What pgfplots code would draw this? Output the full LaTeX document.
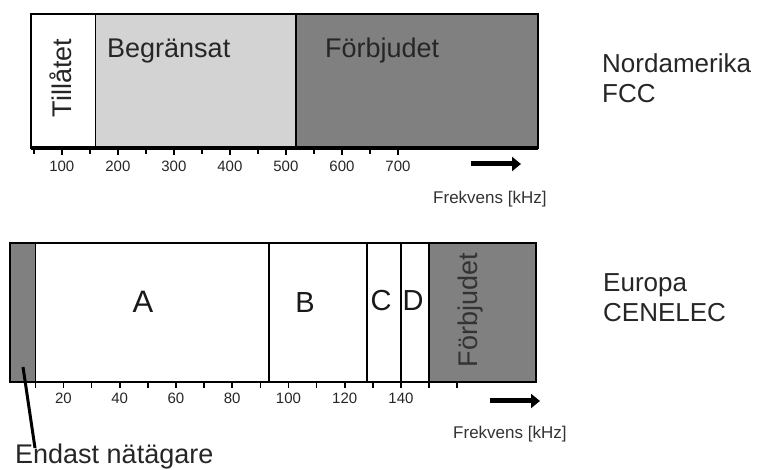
\documentclass[border=0pt]{standalone}
\usepackage{pgfplots}
\pgfplotsset{compat=1.18}
\usepackage{fontspec}
\setmainfont{Liberation Sans}
\usetikzlibrary{arrows.meta}
\definecolor{lgray}{HTML}{D3D3D3}
\definecolor{dgray}{HTML}{808080}
\newcommand{\fs}[1]{\fontsize{#1}{#1}\selectfont}
\begin{document}
\begin{tikzpicture}
\useasboundingbox (0pt,0pt) rectangle (761pt,470pt);
% ---------------- Top panel: FCC ----------------
\begin{axis}[
  at={(31pt,322pt)}, anchor=south west, scale only axis,
  width=507pt, height=134pt,
  xmin=45, xmax=950, ymin=0, ymax=1,
  ytick=\empty,
  xtick={100,200,...,700},
  minor xtick={50,150,...,650},
  tick align=outside, xtick pos=bottom,
  major tick length=7pt, minor tick length=6pt,
  tick style={black, line width=1.6pt},
  xticklabel style={font=\fs{15}, yshift=-3pt, text=black!85},
  /pgf/number format/assume math mode=true,
  axis line style={line width=1.5pt},
  clip=false,
]
\addplot[draw=black, line width=1.5pt, fill=white] coordinates {(45,0) (45,1) (160,1) (160,0)} -- cycle;
\addplot[draw=black, line width=1.5pt, fill=lgray] coordinates {(160,0) (160,1) (518,1) (518,0)} -- cycle;
\addplot[draw=black, line width=1.5pt, fill=dgray] coordinates {(518,0) (518,1) (950,1) (950,0)} -- cycle;
\draw[line width=4pt] (rel axis cs:0,0) -- (rel axis cs:1,0);
\end{axis}
% ---------------- Bottom panel: CENELEC ----------------
\begin{axis}[
  at={(10pt,88pt)}, anchor=south west, scale only axis,
  width=526pt, height=139pt,
  xmin=1, xmax=188, ymin=0, ymax=1,
  ytick=\empty,
  xtick={20,40,...,140},
  minor xtick={10,30,50,70,90,110,130,150,160},
  tick align=outside, xtick pos=bottom,
  major tick length=6pt, minor tick length=6pt,
  tick style={black, line width=1.6pt},
  xticklabel style={font=\fs{15}, yshift=-1pt, text=black!85},
  /pgf/number format/assume math mode=true,
  axis line style={line width=1.5pt},
  clip=false,
]
\addplot[draw=black, line width=1.5pt, fill=dgray] coordinates {(1,0) (1,1) (10,1) (10,0)} -- cycle;
\addplot[draw=black, line width=1.5pt, fill=white] coordinates {(10,0) (10,1) (93,1) (93,0)} -- cycle;
\addplot[draw=black, line width=1.5pt, fill=white] coordinates {(93,0) (93,1) (128,1) (128,0)} -- cycle;
\addplot[draw=black, line width=1.8pt, fill=white] coordinates {(128,0) (128,1) (140,1) (140,0)} -- cycle;
\addplot[draw=black, line width=1.5pt, fill=white] coordinates {(140,0) (140,1) (150,1) (150,0)} -- cycle;
\addplot[draw=black, line width=1.5pt, fill=dgray] coordinates {(150,0) (150,1) (188,1) (188,0)} -- cycle;
\draw[line width=2.5pt] (rel axis cs:0,0) -- (rel axis cs:1,0);
\end{axis}
% ---------------- Texts ----------------
\node[rotate=90, font=\fs{27}, inner sep=0pt, text=black!85] at (61pt,392pt) {Tillåtet};
\node[anchor=base west, font=\fs{27}, inner sep=0pt, text=black!85] at (107pt,412pt) {Begränsat};
\node[anchor=base west, font=\fs{27}, inner sep=0pt, text=black!85] at (325pt,412pt) {Förbjudet};
\node[anchor=base west, font=\fs{26}, inner sep=0pt, text=black!85] at (602pt,397pt) {Nordamerika};
\node[anchor=base west, font=\fs{26}, inner sep=0pt, text=black!85] at (602pt,367pt) {FCC};
\draw[line width=5pt, -{Triangle[length=9pt,width=14pt]}] (471pt,306pt) -- (521pt,306pt);
\node[anchor=base west, font=\fs{17}, inner sep=0pt, text=black!80] at (433pt,266pt) {Frekvens [kHz]};

\node[anchor=base, font=\fs{31}, inner sep=0pt, text=black!90] at (143pt,157pt) {A};
\node[anchor=base, font=\fs{29}, inner sep=0pt, text=black!90] at (305pt,157pt) {B};
\node[anchor=base, font=\fs{29}, inner sep=0pt, text=black!90] at (381pt,159pt) {C};
\node[anchor=base, font=\fs{29}, inner sep=0pt, text=black!90] at (413pt,159pt) {D};
\node[rotate=90, font=\fs{27}, inner sep=0pt, text=black!80] at (471pt,160pt) {Förbjudet};
\node[anchor=base west, font=\fs{26}, inner sep=0pt, text=black!85] at (603pt,178pt) {Europa};
\node[anchor=base west, font=\fs{26}, inner sep=0pt, text=black!85] at (603pt,148pt) {CENELEC};
\draw[line width=5pt, -{Triangle[length=9pt,width=14pt]}] (490pt,69pt) -- (540pt,69pt);
\node[anchor=base west, font=\fs{17}, inner sep=0pt, text=black!80] at (453pt,31pt) {Frekvens [kHz]};
\draw[line width=3pt] (23pt,103pt) -- (35pt,22pt);
\node[anchor=base west, font=\fs{27}, inner sep=0pt, text=black!85] at (15pt,6.5pt) {Endast nätägare};
\end{tikzpicture}
\end{document}
